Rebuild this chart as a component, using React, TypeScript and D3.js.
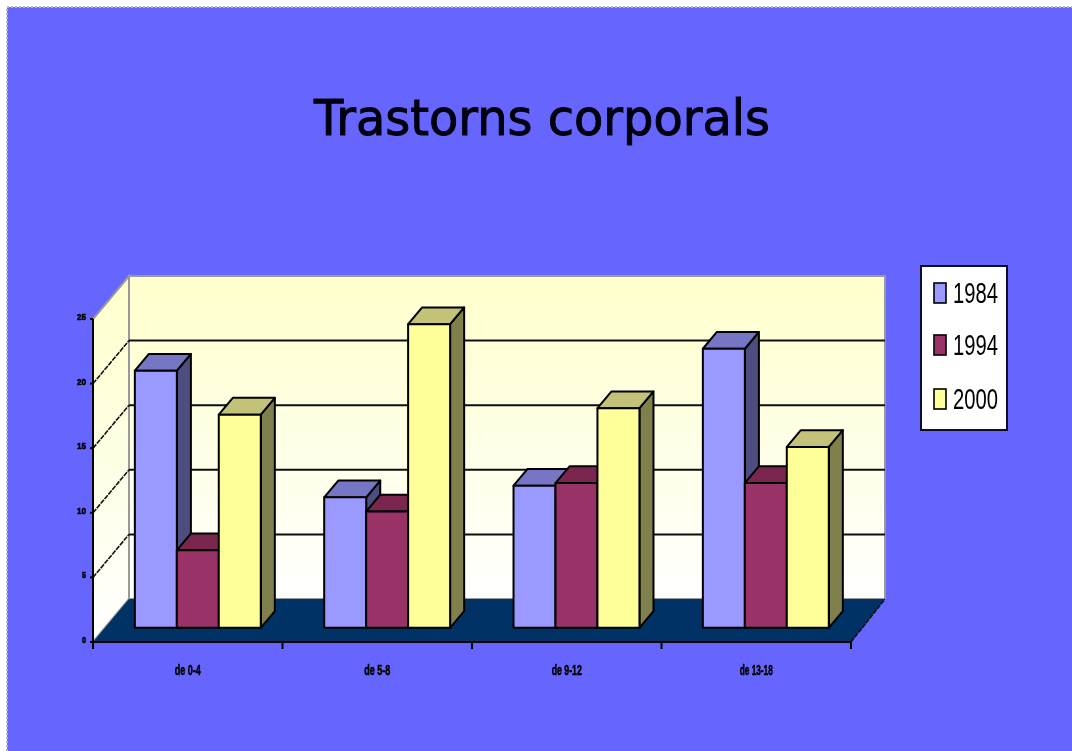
import React from "react";
import * as d3 from "d3";

const title = "Trastorns corporals";
const categories = ["de 0-4", "de 5-8", "de 9-12", "de 13-18"];
const seriesNames = ["1984", "1994", "2000"];
const values1984 = [19.9, 10.1, 11, 21.6];
const values1994 = [6, 9, 11.2, 11.2];
const values2000 = [16.5, 23.5, 17, 14];
const yTicks = [0, 5, 10, 15, 20, 25];
const fronts = ["#9999ff", "#993366", "#ffff99"];
const tops = ["#7676c4", "#7a2850", "#c2c278"];
const sides = ["#4d4d80", "#4d1a33", "#80804d"];

const seriesValues = [values1984, values1994, values2000];

const x0 = 93, x1 = 851, yBase = 642, yTop = 319;
const depthX = 36, depthXRight = 34, depthY = 43;
const x = d3.scaleBand<string>().domain(categories).range([x0, x1]);
const series = d3.scaleBand<string>().domain(seriesNames).range([0, 126]);
const y = d3.scaleLinear().domain([0, 25]).range([yBase, yTop]);
const depthAt = d3.scaleLinear().domain([x0, x1]).range([depthX, depthXRight]);
const barInset = 30;
const line = d3.line<[number, number]>();

// projects a front-plane point into the depth of the box (d = 0..1)
const pr = (px: number, py: number, d: number): [number, number] => [px + depthAt(px) * d, py - depthY * d];
const poly = (pts: [number, number][]) => line(pts) + "Z";

export default function App() {
  const bd0 = 0.33, bd1 = 0.72;
  const legendY = [293, 345, 399];
  return (
    <svg width={1072} height={751} style={{ position: "absolute", left: 0, top: 0, display: "block" }}>
      <defs>
        <linearGradient id="wall" x1="0" x2="0" y1="0" y2="1">
          <stop offset="0" stopColor="#ffffcc" />
          <stop offset="1" stopColor="#ffffff" />
        </linearGradient>
        <filter id="soft" x="-5%" y="-5%" width="110%" height="110%">
          <feGaussianBlur stdDeviation="0.6" />
        </filter>
      </defs>
      <rect width={1072} height={751} fill="#ffffff" />
      <rect x={7} y={7} width={1065} height={744} fill="#6666ff" />
      <path d="M7 751V7H1072" fill="none" stroke="#b4b4c8" strokeWidth={2} strokeDasharray="2 2" />
      <g filter="url(#soft)">
        <text x={542} y={135} textAnchor="middle" fontFamily="'DejaVu Sans', sans-serif" fontSize={49}
          textLength={456} lengthAdjust="spacingAndGlyphs" fill="#000010" stroke="#000010" strokeWidth={1}>{title}</text>

        {/* walls and floor */}
        <path d={poly([pr(x0, yTop, 1), pr(x1, yTop, 1), pr(x1, yBase, 1), pr(x0, yBase, 1)])}
          fill="url(#wall)" stroke="#999999" strokeWidth={2} />
        <path d={poly([[x0, yBase], pr(x0, yBase, 1), pr(x0, yTop, 1), [x0, yTop]])}
          fill="url(#wall)" stroke="#999999" strokeWidth={2} />
        <path d={poly([[x0, yBase], [x1, yBase], pr(x1, yBase, 1), pr(x0, yBase, 1)])} fill="#003366" />

        {/* gridlines */}
        {yTicks.filter((t) => t > 0 && t < 25).map((t) => (
          <g key={t} fill="none" stroke="#111111">
            <path d={line([[x0, y(t)], pr(x0, y(t), 1)])!} strokeWidth={1.6} strokeDasharray="5 1" />
            <path d={line([pr(x0, y(t), 1), pr(x1, y(t), 1)])!} strokeWidth={2} />
          </g>
        ))}
        <path d={line([[x1, yBase], pr(x1, yBase, 1)])!} stroke="#111111" strokeWidth={1.6} strokeDasharray="5 1" fill="none" />

        {/* bars */}
        {categories.map((c, ci) =>
          seriesNames.map((s, si) => {
            const left = x(c)! + barInset + series(s)!;
            const w = series.bandwidth();
            const v = seriesValues[si][ci];
            const yv = y(v);
            const a = pr(left, yBase, bd0);
            const top = pr(left, yv, bd0);
            const h = a[1] - top[1];
            const dx = depthX * (bd1 - bd0), dy = depthY * (bd1 - bd0);
            const fx = a[0], fb = a[1], ft = top[1];
            return (
              <g key={c + s} stroke="#000000" strokeWidth={2} strokeLinejoin="round">
                <path d={poly([[fx + w, ft], [fx + w + dx, ft - dy], [fx + w + dx, fb - dy], [fx + w, fb]])} fill={sides[si]} />
                <path d={poly([[fx, ft], [fx + dx, ft - dy], [fx + w + dx, ft - dy], [fx + w, ft]])} fill={tops[si]} />
                <rect x={fx} y={ft} width={w} height={h} fill={fronts[si]} />
              </g>
            );
          })
        )}

        {/* axes */}
        <g stroke="#000000" strokeWidth={2} fill="none">
          <path d={line([[x0, yTop], [x0, yBase + 7]])!} />
          <path d={line([[x0 - 3, yBase], [x1, yBase]])!} />
          {categories.map((c) => (
            <path key={c} d={line([[x(c)! + x.bandwidth(), yBase], [x(c)! + x.bandwidth(), yBase + 7]])!} />
          ))}
          {yTicks.map((t) => (
            <path key={t} d={line([[x0 - 3, y(t)], [x0, y(t)]])!} />
          ))}
        </g>
        {yTicks.map((t) => (
          <text key={t} x={86} y={y(t) + 1} textAnchor="end" fontFamily="'Liberation Sans', sans-serif" fontWeight="bold"
            fontSize={9} fill="#000000" stroke="#000000" strokeWidth={0.6} textLength={t < 10 ? 4 : 9}
            lengthAdjust="spacingAndGlyphs">{t}</text>
        ))}
        {categories.map((c, i) => (
          <text key={c} x={x(c)! + x.bandwidth() / 2} y={675} textAnchor="middle" fontFamily="'Liberation Sans', sans-serif"
            fontWeight="bold" fontSize={14} fill="#000000" stroke="#000000" strokeWidth={0.6}
            textLength={i === 3 ? 33 : i === 2 ? 30 : 26} lengthAdjust="spacingAndGlyphs">{c}</text>
        ))}

        {/* legend */}
        <rect x={921} y={266} width={86} height={164} fill="#ffffff" stroke="#10102a" strokeWidth={2} />
        {seriesNames.map((s, i) => (
          <g key={s}>
            <rect x={934} y={legendY[i] - 10} width={12} height={20} fill={fronts[i]} stroke="#000000" strokeWidth={1.6} />
            <text x={953} y={legendY[i] + 10} fontFamily="'Liberation Sans', sans-serif" fontSize={30} fill="#000000"
              textLength={45} lengthAdjust="spacingAndGlyphs">{s}</text>
          </g>
        ))}
      </g>
    </svg>
  );
}
